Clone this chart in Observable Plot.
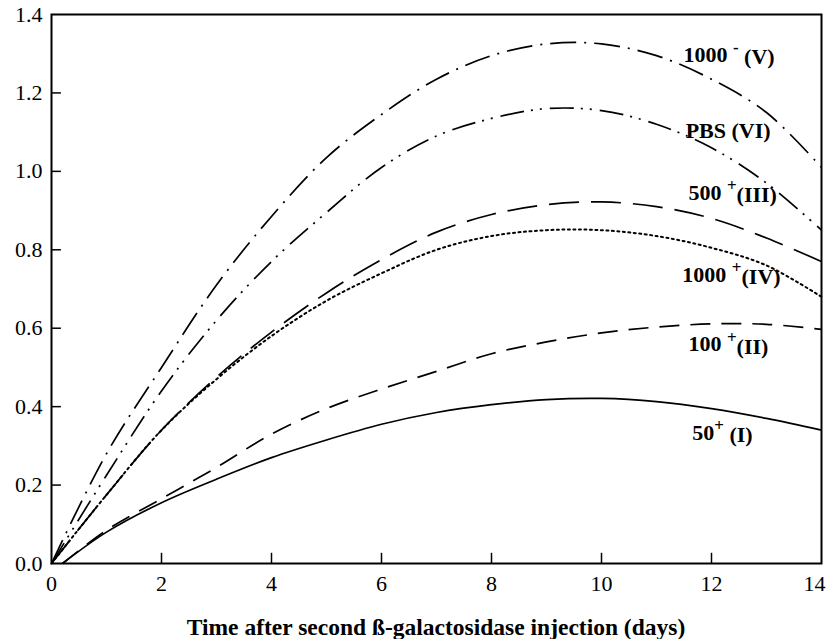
<!DOCTYPE html>
<html>
<head>
<meta charset="utf-8">
<script src="https://cdn.jsdelivr.net/npm/d3@7"></script>
<script src="https://cdn.jsdelivr.net/npm/@observablehq/plot@0.6"></script>
<style>
  html, body { margin: 0; padding: 0; background: #fff; }
  #chart { width: 828px; height: 600px; }
  #chart svg text { font-family: "Liberation Serif", "Times New Roman", serif; }
  #xtitle {
    font-family: "Liberation Serif", "Times New Roman", serif;
    font-weight: bold; font-size: 23.5px; line-height: 24px;
    text-align: center; padding-left: 51px; padding-right: 7px; margin-top: 15px;
    color: #000;
  }
</style>
</head>
<body>
<div id="chart"></div>
<div id="xtitle">Time after second ß-galactosidase injection (days)</div>
<script>
// ---- data ----
const daysLow = [0.2, 1, 2, 3, 4, 5, 6, 7, 8, 9, 10, 11, 12, 13, 14];
const days    = [0,   1, 2, 3, 4, 5, 6, 7, 8, 9, 10, 11, 12, 13, 14];

const groupI   = [0, 0.08, 0.155, 0.215, 0.27, 0.315, 0.355, 0.385, 0.405, 0.418, 0.421, 0.413, 0.395, 0.37, 0.34];
const groupII  = [0, 0.085, 0.165, 0.245, 0.33, 0.395, 0.445, 0.49, 0.535, 0.565, 0.588, 0.603, 0.611, 0.61, 0.597];
const groupIII = [0, 0.175, 0.34, 0.475, 0.59, 0.69, 0.775, 0.845, 0.89, 0.915, 0.922, 0.91, 0.88, 0.83, 0.77];
const groupIV  = [0, 0.175, 0.34, 0.47, 0.58, 0.67, 0.74, 0.80, 0.835, 0.85, 0.85, 0.835, 0.805, 0.76, 0.68];
const groupV   = [0, 0.28, 0.50, 0.71, 0.885, 1.035, 1.145, 1.235, 1.295, 1.325, 1.325, 1.295, 1.235, 1.15, 1.01];
const groupVI  = [0, 0.225, 0.44, 0.62, 0.77, 0.895, 1.01, 1.09, 1.135, 1.16, 1.155, 1.12, 1.06, 0.97, 0.85];

const xTicks = [0, 2, 4, 6, 8, 10, 12, 14];
const yTicks = [0, 0.2, 0.4, 0.6, 0.8, 1.0, 1.2, 1.4];

// curve labels: base text, superscript, rest; anchor in data coordinates
const labelBase = ["50", "100 ", "500 ", "1000 ", "1000 ", "PBS (VI)"];
const labelSup  = ["+", "+", "+", "+", "-", ""];
const labelRest = [" (I)", "(II)", "(III)", "(IV)", " (V)", ""];
const labelDay  = [11.65, 11.58, 11.58, 11.47, 11.49, 11.53];
const labelVal  = [0.334, 0.559, 0.946, 0.737, 1.298, 1.104];

// ---- build tables ----
const series = [
  {name: "I",   x: daysLow, y: groupI,   dash: null},
  {name: "II",  x: daysLow, y: groupII,  dash: "20,11"},
  {name: "III", x: days,    y: groupIII, dash: "30,12"},
  {name: "IV",  x: days,    y: groupIV,  dash: "2,3.5"},
  {name: "V",   x: days,    y: groupV,   dash: "26,8,2,8"},
  {name: "VI",  x: days,    y: groupVI,  dash: "24,7,2,7,2,8"}
];
const lineMarks = series.map(s => Plot.line(
  s.x.map((t, i) => ({t, v: s.y[i]})),
  {x: "t", y: "v", curve: "catmull-rom", stroke: "#000",
   strokeWidth: s.name === "IV" ? 2 : 1.7,
   strokeDasharray: s.dash, strokeLinecap: s.name === "IV" ? "round" : "butt"}
));
const labels = labelBase.map((b, i) => ({t: labelDay[i], v: labelVal[i], text: b + labelSup[i] + labelRest[i]}));

const serif = "'Liberation Serif', 'Times New Roman', serif";
const plot = Plot.plot({
  width: 828, height: 600,
  marginLeft: 51, marginRight: 7, marginTop: 14, marginBottom: 37,
  style: {fontFamily: serif, fontSize: "22px", color: "#000", background: "#fff"},
  x: {domain: [0, 14]},
  y: {domain: [0, 1.4]},
  marks: [
    Plot.axisX({ticks: xTicks.slice(0, -1), tickSize: 0, tickPadding: 12, tickFormat: d3.format("d"), label: null, fontSize: 22}),
    Plot.axisX({ticks: xTicks.slice(-1), tickSize: 0, tickPadding: 12, tickFormat: d3.format("d"), label: null, fontSize: 22, textAnchor: "end", dx: 4}),
    Plot.axisY({ticks: yTicks, tickSize: 0, tickPadding: 9, tickFormat: d3.format(".1f"), label: null, fontSize: 22}),
    Plot.ruleX(xTicks.slice(1, -1), {x: d => d, y1: 0, y2: 0.026, stroke: "#000", strokeWidth: 1.5}),
    Plot.ruleY(yTicks.slice(1, -1), {y: d => d, x1: 0, x2: 0.18, stroke: "#000", strokeWidth: 1.5}),
    ...lineMarks,
    Plot.text(labels, {x: "t", y: "v", text: "text", textAnchor: "start", fontWeight: "bold", fontSize: 22, fill: "#000"}),
    Plot.frame({stroke: "#000", strokeWidth: 2})
  ]
});
document.getElementById("chart").appendChild(plot);

// force the serif face on every text element
d3.select(plot).selectAll("g, text")
  .attr("font-family", "Liberation Serif")
  .style("font-family", "'Liberation Serif', serif")
  .style("font-variant", "normal");

// rebuild label texts with superscripts
d3.select(plot).selectAll('g[aria-label="text"] text').each(function(_, i) {
  const el = d3.select(this);
  el.text(null).style("white-space", "pre");
  el.append("tspan").text(labelBase[i]);
  if (labelSup[i]) {
    el.append("tspan").attr("dy", "-0.5em").attr("font-size", "17px").text(labelSup[i]);
    el.append("tspan").attr("dy", "0.5em").text(labelRest[i]);
  }
});
</script>
</body>
</html>
